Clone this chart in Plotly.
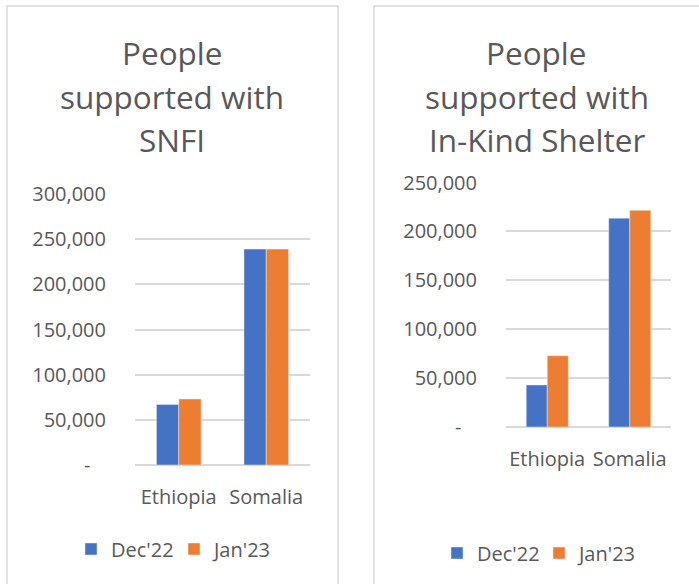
import plotly.graph_objects as go

# ---- data ----
categories = ["Ethiopia", "Somalia"]
series_names = ["Dec'22", "Jan'23"]
snfi_dec22 = [67000, 239000]
snfi_jan23 = [73000, 239000]
shelter_dec22 = [43000, 213500]
shelter_jan23 = [72800, 221500]

snfi_tickvals = [0, 50000, 100000, 150000, 200000, 250000, 300000]
snfi_ticktext = ["-\u00a0\u00a0\u00a0", "50,000", "100,000", "150,000", "200,000", "250,000", "300,000"]
shelter_tickvals = [0, 50000, 100000, 150000, 200000, 250000]
shelter_ticktext = ["-\u00a0\u00a0\u00a0", "50,000", "100,000", "150,000", "200,000", "250,000"]

snfi_title_lines = ["People", "supported with", "SNFI"]
shelter_title_lines = ["People", "supported with", "In-Kind Shelter"]

# ---- style ----
W, H = 699, 584
BLUE = "#4472C4"
ORANGE = "#ED7D31"
TXT = "#595959"
GRID = "#D9D9D9"
FONT = "Open Sans"


def fx(px):
    return px / W


def fy(py):
    return 1 - py / H


fig = go.Figure()
fig.add_trace(go.Bar(x=categories, y=snfi_dec22, name=series_names[0], marker_color=BLUE,
                     xaxis="x", yaxis="y", legend="legend"))
fig.add_trace(go.Bar(x=categories, y=snfi_jan23, name=series_names[1], marker_color=ORANGE,
                     xaxis="x", yaxis="y", legend="legend"))
fig.add_trace(go.Bar(x=categories, y=shelter_dec22, name=series_names[0], marker_color=BLUE,
                     xaxis="x2", yaxis="y2", legend="legend2"))
fig.add_trace(go.Bar(x=categories, y=shelter_jan23, name=series_names[1], marker_color=ORANGE,
                     xaxis="x2", yaxis="y2", legend="legend2"))

axis_font = dict(family=FONT, size=20, color=TXT)

xcommon = dict(showgrid=False, zeroline=False, showline=False, ticks="",
               tickfont=axis_font, ticklabelstandoff=18, fixedrange=True)
ycommon = dict(showgrid=True, gridcolor=GRID, gridwidth=1.5, zeroline=True,
               zerolinecolor=GRID, zerolinewidth=1.5, showline=False, ticks="",
               tickfont=axis_font, ticklabelstandoff=28, fixedrange=True)

annotations = []
for i, line in enumerate(snfi_title_lines):
    annotations.append(dict(text=line, x=fx(172), y=fy(52 + 44 * i), xref="paper", yref="paper",
                            xanchor="center", yanchor="middle", showarrow=False,
                            font=dict(family=FONT, size=31.5, color=TXT)))
for i, line in enumerate(shelter_title_lines):
    annotations.append(dict(text=line, x=fx(536.5), y=fy(52 + 44 * i), xref="paper", yref="paper",
                            xanchor="center", yanchor="middle", showarrow=False,
                            font=dict(family=FONT, size=31.5, color=TXT)))

legend_font = dict(family=FONT, size=20, color=TXT)

fig.update_layout(
    width=W, height=H,
    margin=dict(l=0, r=0, t=0, b=0, autoexpand=False),
    paper_bgcolor="white", plot_bgcolor="white",
    barmode="group", bargap=0.49, bargroupgap=0,
    xaxis=dict(domain=[fx(135), fx(310)], anchor="y", **xcommon),
    yaxis=dict(domain=[fy(465), fy(194)], anchor="x", range=[0, 300000],
               tickvals=snfi_tickvals, ticktext=snfi_ticktext, **ycommon),
    xaxis2=dict(domain=[fx(506), fx(671)], anchor="y2", **xcommon),
    yaxis2=dict(domain=[fy(427), fy(182.5)], anchor="x2", range=[0, 250000],
                tickvals=shelter_tickvals, ticktext=shelter_ticktext, **ycommon),
    legend=dict(orientation="h", x=fx(71), y=fy(549), xanchor="left", yanchor="middle",
                entrywidth=58, entrywidthmode="pixels",
                font=legend_font, bgcolor="rgba(0,0,0,0)", itemclick=False, itemdoubleclick=False),
    legend2=dict(orientation="h", x=fx(437), y=fy(553), xanchor="left", yanchor="middle",
                 entrywidth=57, entrywidthmode="pixels",
                 font=legend_font, bgcolor="rgba(0,0,0,0)", itemclick=False, itemdoubleclick=False),
    annotations=annotations,
    shapes=[
        dict(type="rect", xref="paper", yref="paper", x0=fx(7), x1=fx(338), y0=fy(620), y1=fy(6),
             line=dict(color=GRID, width=1.5), fillcolor="rgba(0,0,0,0)", layer="below"),
        dict(type="rect", xref="paper", yref="paper", x0=fx(374), x1=fx(720), y0=fy(620), y1=fy(6),
             line=dict(color=GRID, width=1.5), fillcolor="rgba(0,0,0,0)", layer="below"),
    ],
    showlegend=True,
)

fig.write_html("out.html", config={"displayModeBar": False})
